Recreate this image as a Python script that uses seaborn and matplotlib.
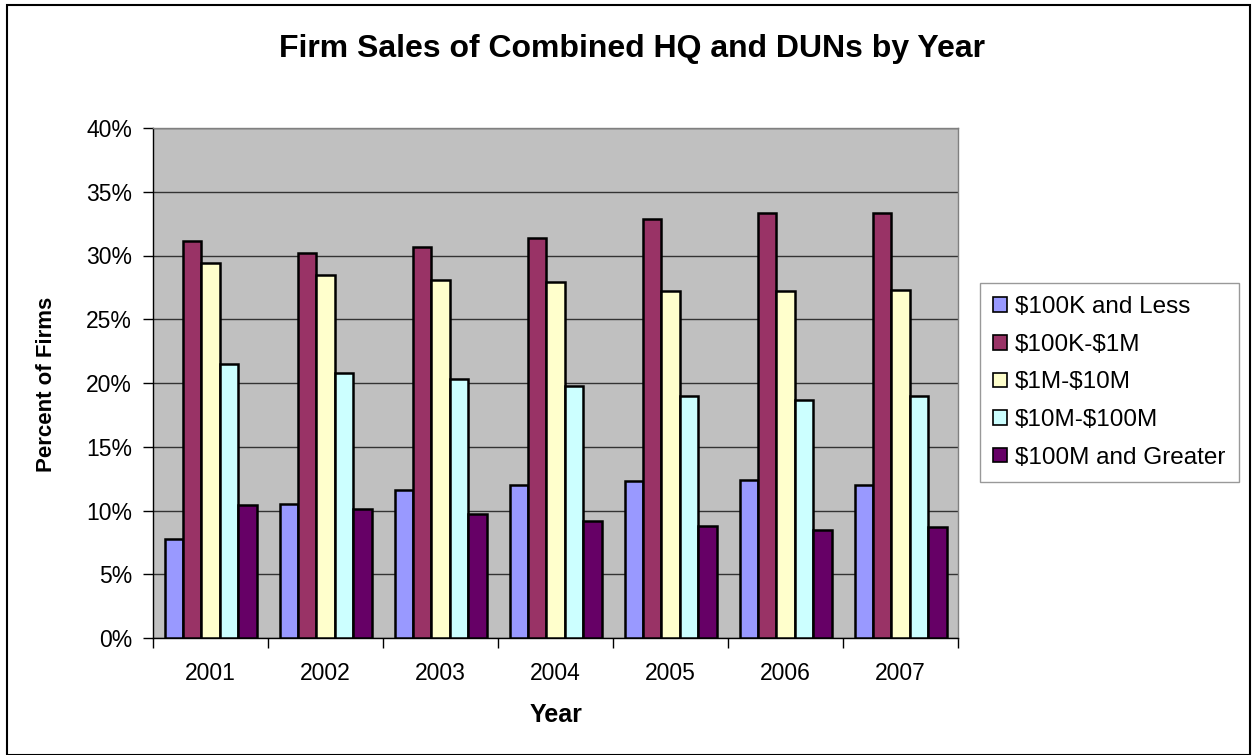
import numpy as np
import matplotlib
matplotlib.use("Agg")
import matplotlib.pyplot as plt
from matplotlib.patches import Rectangle
from matplotlib.ticker import FuncFormatter, MultipleLocator, FixedLocator
import seaborn as sns
import pandas as pd

# values, percent of firms
years = ['2001', '2002', '2003', '2004', '2005', '2006', '2007']
less_100k = [7.8, 10.5, 11.6, 12.0, 12.3, 12.4, 12.0]
k100_1m = [31.1, 30.2, 30.7, 31.4, 32.9, 33.3, 33.3]
m1_10m = [29.4, 28.5, 28.1, 27.9, 27.2, 27.2, 27.3]
m10_100m = [21.5, 20.8, 20.3, 19.8, 19.0, 18.7, 19.0]
m100_plus = [10.4, 10.1, 9.7, 9.2, 8.8, 8.5, 8.7]

labels = ['$100K and Less', '$100K-$1M', '$1M-$10M', '$10M-$100M', '$100M and Greater']
colors = ['#9999FF', '#993366', '#FFFFCC', '#CCFFFF', '#660066']

series = [less_100k, k100_1m, m1_10m, m10_100m, m100_plus]
df = pd.DataFrame({
    'Year': years * len(labels),
    'Sales': np.repeat(labels, len(years)),
    'Percent': np.concatenate(series),
})

sns.set_style('white')
plt.rcParams['font.family'] = ['Liberation Sans', 'DejaVu Sans']
plt.rcParams['text.color'] = 'black'
plt.rcParams['xtick.color'] = 'black'
plt.rcParams['ytick.color'] = 'black'

W, H = 1254, 755
fig = plt.figure(figsize=(W / 100, H / 100), dpi=100)
ax = fig.add_axes([153 / W, 1 - 638 / H, (958 - 153) / W, (638 - 128) / H])
ax.set_facecolor('#C0C0C0')

sns.barplot(data=df, x='Year', y='Percent', hue='Sales', hue_order=labels,
            palette=colors, saturation=1, width=0.8, edgecolor='black',
            linewidth=1.8, errorbar=None, ax=ax, zorder=3, legend=False)

ax.set_ylim(0, 40)
ax.set_xlim(-0.5, len(years) - 0.5)
ax.yaxis.set_major_locator(MultipleLocator(5))
ax.yaxis.set_major_formatter(FuncFormatter(lambda v, p: f'{v:.0f}%'))
ax.grid(axis='y', color='#333333', linewidth=1.0, zorder=0)
ax.set_axisbelow(True)

ax.tick_params(axis='y', which='major', direction='out', length=7, width=1,
               color='black', pad=8, labelsize=16.5, left=True)
ax.tick_params(axis='x', which='major', length=0, pad=17, labelsize=16.5)
ax.xaxis.set_minor_locator(FixedLocator(np.arange(-0.5, len(years), 1.0)))
ax.tick_params(axis='x', which='minor', direction='out', length=7, width=1,
               color='black', bottom=True)

for s in ['left', 'bottom']:
    ax.spines[s].set_color('black')
    ax.spines[s].set_linewidth(1.0)
for s in ['top', 'right']:
    ax.spines[s].set_color('#808080')
    ax.spines[s].set_linewidth(1.0)

ax.set_xlabel('')
ax.set_ylabel('')

fig.text(632 / W, 1 - 49 / H, 'Firm Sales of Combined HQ and DUNs by Year',
         ha='center', va='center', fontsize=23, fontweight='bold')
fig.text(47 / W, 1 - 384 / H, 'Percent of Firms', rotation=90,
         ha='center', va='center', fontsize=16, fontweight='bold')
fig.text(556 / W, 1 - 715 / H, 'Year', ha='center', va='center',
         fontsize=18, fontweight='bold')

handles = [Rectangle((0, 0), 1, 1, facecolor=c, edgecolor='black', linewidth=1.2)
           for c in colors]
leg_labels = [s.replace('$', r'\$') for s in labels]
leg = fig.legend(handles, leg_labels, loc='upper left',
                 bbox_to_anchor=(980 / W, 1 - 283 / H), borderaxespad=0,
                 fontsize=17.5, frameon=True, fancybox=False,
                 handlelength=0.55, handleheight=0.55, handletextpad=0.35,
                 labelspacing=0.64, borderpad=0.55)
leg.get_frame().set_edgecolor('#808080')
leg.get_frame().set_linewidth(1.0)

fig.patches.append(Rectangle((7 / W, 0), (1250 - 7) / W, 1 - 5 / H,
                             transform=fig.transFigure, fill=False,
                             edgecolor='black', linewidth=1.5))

fig.savefig('out.png', dpi=100)
